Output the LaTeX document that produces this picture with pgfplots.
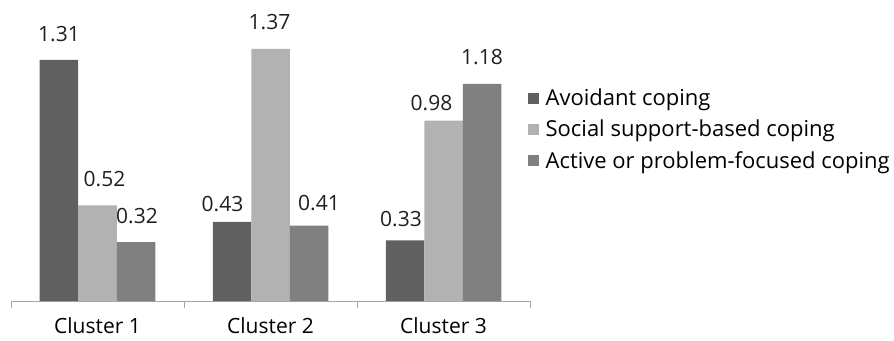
\documentclass[border=0pt]{standalone}
\usepackage{fontspec}
\setmainfont{Open Sans}
\usepackage{pgfplots}
\usepackage{pgfplotstable}
\pgfplotsset{compat=1.18}
\definecolor{cA}{HTML}{606060}
\definecolor{cB}{HTML}{B2B2B2}
\definecolor{cC}{HTML}{808080}
\definecolor{axg}{HTML}{A6A6A6}
% x  value  label-dx  label-gap
\pgfplotstableread{
x y dx dy
0 1.31 0 18
1 0.43 -9.5 10
2 0.33 -4 13
}\tA
\pgfplotstableread{
x y dx dy
0 0.52 7 18
1 1.37 -1 19
2 0.98 -12 10
}\tB
\pgfplotstableread{
x y dx dy
0 0.32 1 18
1 0.41 10 15
2 1.18 0 19
}\tC
\begin{document}
\begin{tikzpicture}[x=1pt,y=1pt]
\useasboundingbox (-11,-39) rectangle (883,301);
\begin{axis}[
  at={(0,0)}, anchor=south west,
  scale only axis, width=519pt, height=301pt,
  ybar=0pt, bar width=38.5pt,
  xmin=-0.5, xmax=2.5, ymin=0, ymax=1.636,
  axis x line*=bottom, axis y line=none,
  x axis line style={draw=axg, line width=0.8pt, -},
  xtick={0,1,2}, xticklabels={Cluster 1,Cluster 2,Cluster 3},
  major tick length=0pt,
  extra x ticks={-0.5,0.5,1.5,2.5}, extra x tick labels={},
  extra x tick style={major tick length=7pt, tick align=outside, tick style={draw=axg, line width=0.8pt}},
  xticklabel style={font=\fontsize{21}{25}\selectfont, yshift=-13pt},
  nodes near coords,
  visualization depends on={\thisrow{dx} \as \dx},
  visualization depends on={\thisrow{dy} \as \dy},
  every node near coord/.append style={font=\fontsize{21}{25}\selectfont, inner sep=0pt, anchor=south, xshift=\dx pt, yshift=\dy pt, text=black!88},
  /pgf/number format/assume math mode=true,
  /pgf/number format/.cd, fixed, zerofill, precision=2, /pgfplots/.cd,
  legend style={at={(0.995,0.57)}, anchor=west, draw=none, fill=none,
    font=\fontsize{22}{26}\selectfont, row sep=9pt, inner sep=0pt,
    /tikz/every odd column/.append style={column sep=5pt}},
  legend cell align=left,
  legend image code/.code={\fill[#1,draw=none] (0pt,-5.5pt) rectangle (11pt,5.5pt);},
  clip=false,
]
\addplot[fill=cA, draw=none] table[x=x,y=y] {\tA};
\addplot[fill=cB, draw=none] table[x=x,y=y] {\tB};
\addplot[fill=cC, draw=none] table[x=x,y=y] {\tC};
\legend{Avoidant coping, Social support-based coping, Active or problem-focused coping}
\end{axis}
\end{tikzpicture}
\end{document}
